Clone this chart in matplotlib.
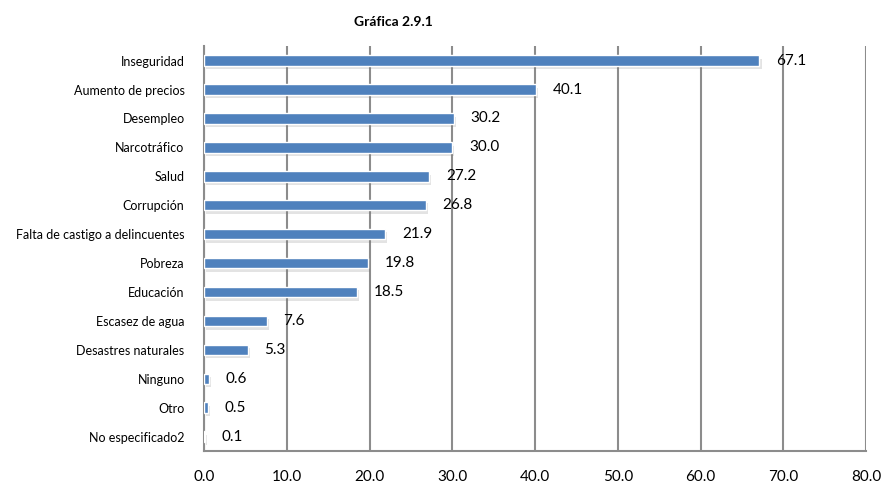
import matplotlib.pyplot as plt
import matplotlib.patheffects as pe

categories = ['Inseguridad', 'Aumento de precios', 'Desempleo', 'Narcotráfico', 'Salud',
              'Corrupción', 'Falta de castigo a delincuentes', 'Pobreza', 'Educación',
              'Escasez de agua', 'Desastres naturales', 'Ninguno', 'Otro', 'No especificado2']
values = [67.1, 40.1, 30.2, 30.0, 27.2, 26.8, 21.9, 19.8, 18.5, 7.6, 5.3, 0.6, 0.5, 0.1]
xticks = [0, 10, 20, 30, 40, 50, 60, 70, 80]

plt.rcParams['font.family'] = ['Lato', 'DejaVu Sans']

fig = plt.figure(figsize=(8.83, 4.86), dpi=100)
ax = fig.add_axes([0.231, 0.072, 0.75, 0.833])

ypos = list(range(len(categories)))
bars = ax.barh(ypos, values, height=0.36, color='#4F81BD', edgecolor='white', linewidth=1.0, zorder=3)
for b in bars:
    b.set_path_effects([pe.SimplePatchShadow(offset=(1.5, -2.5), alpha=0.2, shadow_rgbFace='#777777'),
                        pe.Normal()])

for y, v in zip(ypos, values):
    ax.annotate(f'{v:.1f}', (v, y), xytext=(12, 0), textcoords='offset points',
                va='center', ha='left', fontsize=11, color='black', zorder=4)

ax.set_xlim(0, 80)
ax.set_ylim(len(categories) - 0.5, -0.5)
ax.set_xticks(xticks)
ax.set_xticklabels([f'{t:.1f}' for t in xticks], fontsize=11)
ax.set_yticks(ypos)
ax.set_yticklabels(categories, fontsize=9)
ax.tick_params(axis='both', length=0)
ax.tick_params(axis='x', pad=14)
ax.tick_params(axis='y', pad=14)

ax.grid(axis='x', color='#8C8C8C', linewidth=1.5, zorder=0)
for s in ['top', 'right']:
    ax.spines[s].set_visible(False)
for s in ['left', 'bottom']:
    ax.spines[s].set_color('#8C8C8C')
    ax.spines[s].set_linewidth(1.5)

fig.text(0.445, 0.955, 'Gráfica 2.9.1', fontsize=10, fontweight='bold', ha='center', va='center')

fig.savefig('out.png', dpi=100)
